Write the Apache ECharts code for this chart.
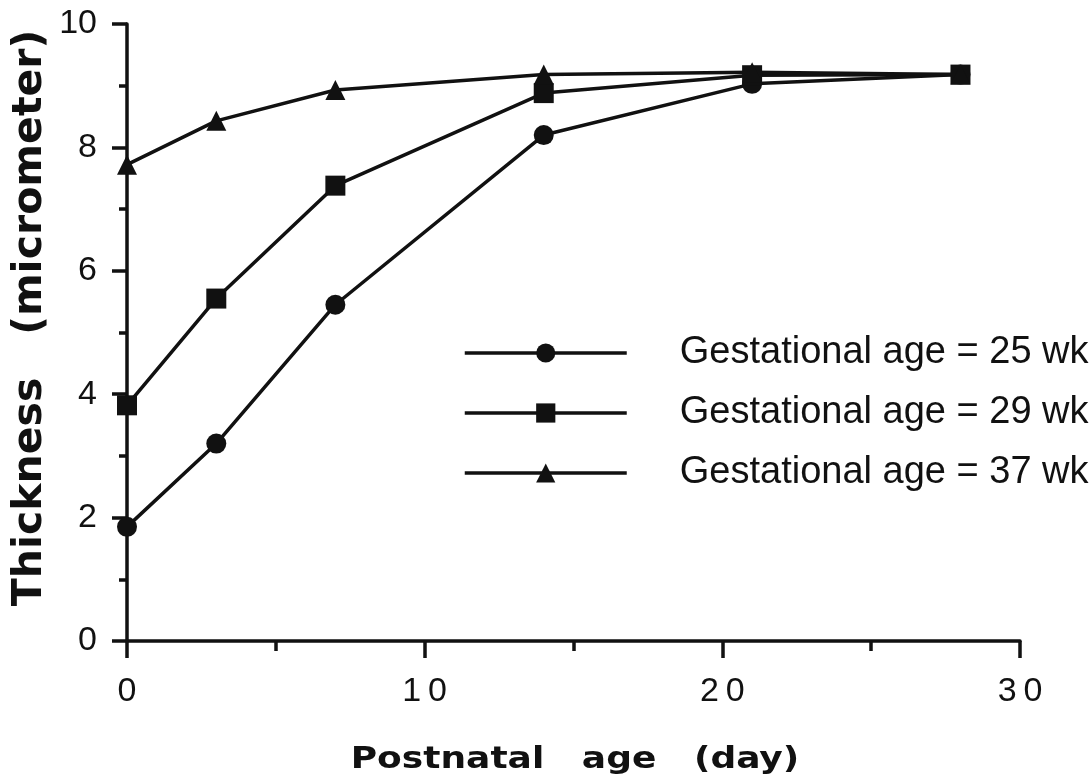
<!DOCTYPE html>
<html>
<head>
<meta charset="utf-8">
<title>Thickness vs postnatal age</title>
<script src="https://cdn.jsdelivr.net/npm/echarts@6/dist/echarts.min.js"></script>
<style>
  html, body { margin: 0; padding: 0; background: #ffffff; }
  #chart { width: 1092px; height: 777px; }
</style>
</head>
<body>
<div id="chart"></div>
<script>
// Postnatal age (days) at which thickness was measured
const days = [0, 3, 7, 14, 21, 28];

// Thickness (micrometer) per gestational-age group
const ga25 = [1.85, 3.2, 5.45, 8.2, 9.03, 9.18];
const ga29 = [3.82, 5.55, 7.38, 8.88, 9.17, 9.18];
const ga37 = [7.72, 8.43, 8.93, 9.18, 9.22, 9.18];

const seriesNames = [
  'Gestational age = 25 wk',
  'Gestational age = 29 wk',
  'Gestational age = 37 wk'
];

const xTitle = 'Postnatal   age   (day)';
const yTitle = 'Thickness   (micrometer)';

const INK = '#111111';
const STROKE = 3.5;

function pairs(values) {
  return days.map((d, i) => [d, values[i]]);
}

function lineSeries(name, values, symbol, size) {
  return {
    name: name,
    type: 'line',
    data: pairs(values),
    symbol: symbol,
    symbolSize: size,
    showAllSymbol: true,
    color: INK,
    lineStyle: { color: INK, width: STROKE },
    itemStyle: { color: INK, borderWidth: 0 },
    emphasis: { disabled: true },
    z: 3
  };
}

const chart = echarts.init(document.getElementById('chart'), null, { renderer: 'canvas' });

chart.setOption({
  animation: false,
  backgroundColor: '#ffffff',
  grid: {
    left: 127,
    right: 72,
    top: 24,
    bottom: 136,
    outerBoundsMode: 'none',
    containLabel: false
  },
  xAxis: {
    type: 'value',
    min: 0,
    max: 30,
    interval: 10,
    splitLine: { show: false },
    axisLine: { show: true, onZero: false, lineStyle: { color: INK, width: STROKE } },
    axisTick: { show: true, inside: false, length: 17, lineStyle: { color: INK, width: STROKE } },
    minorTick: { show: true, splitNumber: 2, length: 10, lineStyle: { color: INK, width: STROKE } },
    axisLabel: {
      margin: 34,
      fontFamily: 'Liberation Sans',
      fontSize: 34,
      color: INK,
      formatter: v => String(v).split('').join('\u2009')
    }
  },
  yAxis: {
    type: 'value',
    min: 0,
    max: 10,
    interval: 2,
    splitLine: { show: false },
    axisLine: { show: true, onZero: false, lineStyle: { color: INK, width: STROKE } },
    axisTick: { show: true, inside: false, length: 15, lineStyle: { color: INK, width: STROKE } },
    minorTick: { show: true, splitNumber: 2, length: 8, lineStyle: { color: INK, width: STROKE } },
    axisLabel: {
      margin: 30,
      fontFamily: 'Liberation Sans',
      fontSize: 34,
      color: INK
    }
  },
  legend: {
    show: true,
    orient: 'vertical',
    left: 463,
    top: 334,
    padding: 0,
    itemWidth: 162,
    itemHeight: 24,
    itemGap: 22,
    selectedMode: false,
    lineStyle: { color: INK, width: STROKE },
    itemStyle: { color: INK },
    textStyle: {
      fontFamily: 'Liberation Sans',
      fontSize: 38,
      color: INK,
      padding: [0, 0, 0, 48]
    },
    data: seriesNames
  },
  graphic: [
    {
      type: 'text',
      x: 575,
      y: 760,
      scaleX: 1.2,
      style: {
        text: xTitle,
        fontFamily: 'DejaVu Sans',
        fontWeight: 'bold',
        fontSize: 30,
        fill: INK,
        align: 'center',
        verticalAlign: 'middle'
      }
    },
    {
      type: 'text',
      x: 30,
      y: 318,
      rotation: Math.PI / 2,
      style: {
        text: yTitle,
        fontFamily: 'DejaVu Sans',
        fontWeight: 'bold',
        fontSize: 41,
        fill: INK,
        align: 'center',
        verticalAlign: 'middle'
      }
    }
  ],
  series: [
    lineSeries(seriesNames[0], ga25, 'circle', 20),
    lineSeries(seriesNames[1], ga29, 'rect', 20),
    lineSeries(seriesNames[2], ga37, 'triangle', [20, 20])
  ]
});
</script>
</body>
</html>
